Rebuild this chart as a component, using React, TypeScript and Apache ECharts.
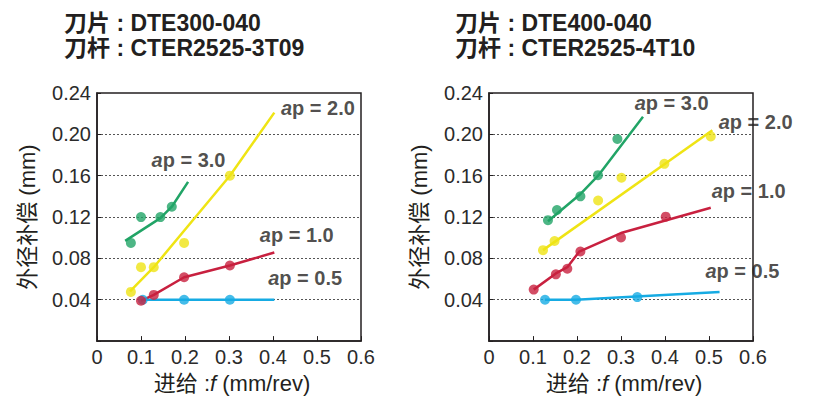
import React, { useEffect, useRef } from "react";
import * as echarts from "echarts";

// ---- Titles ----
const leftTitle = ["刀片 : DTE300-040", "刀杆 : CTER2525-3T09"];
const rightTitle = ["刀片 : DTE400-040", "刀杆 : CTER2525-4T10"];

// ---- Axes ----
const xMin = 0, xMax = 0.6, xStep = 0.1;
const yMin = 0, yMax = 0.24, yStep = 0.04;
const xName = "进给";
const yName = "外径补偿 (mm)";

// ---- ap labels (order: 3.0, 2.0, 1.0, 0.5) ----
const apValues = ["3.0", "2.0", "1.0", "0.5"];
const leftLabelPos = [[0.124, 0.1753], [0.418, 0.2255], [0.37, 0.1025], [0.389, 0.0611]];
const rightLabelPos = [[0.331, 0.2305], [0.522, 0.2115], [0.506, 0.145], [0.492, 0.0675]];

// ---- Left chart data: DTE300-040 ----
const L_ap30_pts = [[0.077, 0.095], [0.1, 0.12], [0.144, 0.12], [0.17, 0.13]];
const L_ap30_fit = [[0.064, 0.097], [0.144, 0.119], [0.17, 0.13], [0.207, 0.154]];
const L_ap20_pts = [[0.077, 0.0476], [0.1, 0.0715], [0.129, 0.0715], [0.198, 0.095], [0.302, 0.16]];
const L_ap20_fit = [[0.075, 0.048], [0.129, 0.0715], [0.302, 0.16], [0.403, 0.221]];
const L_ap10_pts = [[0.1, 0.039], [0.129, 0.0447], [0.198, 0.0618], [0.302, 0.0731]];
const L_ap10_fit = [[0.1, 0.039], [0.129, 0.0447], [0.198, 0.0618], [0.302, 0.0731], [0.403, 0.0857]];
const L_ap05_pts = [[0.104, 0.04], [0.198, 0.04], [0.302, 0.04]];
const L_ap05_fit = [[0.104, 0.04], [0.403, 0.04]];

// ---- Right chart data: DTE400-040 ----
const R_ap30_pts = [[0.134, 0.117], [0.1545, 0.1268], [0.2077, 0.14], [0.2477, 0.1605], [0.2918, 0.1955]];
const R_ap30_fit = [[0.134, 0.116], [0.206, 0.1415], [0.248, 0.16], [0.35, 0.217]];
const R_ap20_pts = [[0.1227, 0.088], [0.149, 0.0968], [0.248, 0.136], [0.301, 0.158], [0.3986, 0.1715], [0.504, 0.198]];
const R_ap20_fit = [[0.1227, 0.088], [0.5077, 0.204]];
const R_ap10_pts = [[0.1016, 0.0498], [0.152, 0.0646], [0.178, 0.07], [0.2077, 0.0867], [0.3, 0.1003], [0.4016, 0.1204]];
const R_ap10_fit = [[0.1016, 0.0498], [0.152, 0.0655], [0.178, 0.0715], [0.205, 0.0865], [0.3, 0.1045], [0.504, 0.129]];
const R_ap05_pts = [[0.1273, 0.04], [0.1977, 0.04], [0.337, 0.0426]];
const R_ap05_fit = [[0.1273, 0.04], [0.1977, 0.04], [0.524, 0.0476]];

// ---- Styles ----
const GREEN = "#21a466";
const YELLOW = "#efe414";
const RED = "#c8203f";
const BLUE = "#16abe3";
const INK = "#231f20";
const FONT = "'Liberation Sans', Arial, 'Noto Sans CJK SC', sans-serif";

function buildSeries(idx: number, sets: any[], labelPos: number[][]) {
  const series: any[] = [];
  sets.forEach((s) => {
    series.push({
      type: "line",
      xAxisIndex: idx,
      yAxisIndex: idx,
      data: s.fit,
      showSymbol: false,
      symbol: "none",
      lineStyle: { color: s.color, width: 2.5 },
      z: 3,
      clip: false,
      silent: true,
    });
    series.push({
      type: "scatter",
      xAxisIndex: idx,
      yAxisIndex: idx,
      data: s.pts,
      symbol: "circle",
      symbolSize: 10,
      itemStyle: { color: s.color },
      z: 4,
      clip: false,
      silent: true,
    });
  });
  series.push({
    type: "scatter",
    xAxisIndex: idx,
    yAxisIndex: idx,
    data: labelPos.map((p, i) => [p[0], p[1], apValues[i]]),
    symbolSize: 0,
    z: 6,
    clip: false,
    silent: true,
    label: {
      show: true,
      position: "right",
      distance: 0,
      formatter: (p: any) => `{i|a}{n|p = ${p.value[2]}}`,
      rich: {
        i: { fontFamily: FONT, fontSize: 20, fontWeight: "bold", fontStyle: "italic", color: INK },
        n: { fontFamily: FONT, fontSize: 20, fontWeight: "bold", color: INK },
      },
    },
  });
  return series;
}

function axisPair(idx: number) {
  const xAxis = {
    type: "value",
    gridIndex: idx,
    min: xMin,
    max: xMax,
    interval: xStep,
    axisLine: { show: true, lineStyle: { color: INK, width: 1.5 } },
    axisTick: { show: true, inside: true, length: 5, lineStyle: { color: INK, width: 1 } },
    splitLine: { show: false },
    axisLabel: {
      margin: 6,
      fontFamily: FONT,
      fontSize: 20,
      color: "#2b2b2b",
      formatter: (v: number) => (v === 0 ? "0" : v.toFixed(1)),
    },
    name: `{n|${xName} :}{i|f}{n| (mm/rev)}`,
    nameLocation: "middle",
    nameGap: 29,
    nameTextStyle: {
      padding: [0, 0, 0, 6],
      rich: {
        n: { fontFamily: FONT, fontSize: 22, color: INK },
        i: { fontFamily: FONT, fontSize: 22, fontStyle: "italic", color: INK },
      },
    },
  };
  const yAxis = {
    type: "value",
    gridIndex: idx,
    min: yMin,
    max: yMax,
    interval: yStep,
    axisLine: { show: true, lineStyle: { color: INK, width: 1.5 } },
    axisTick: { show: true, inside: true, length: 4, lineStyle: { color: INK, width: 1 } },
    splitLine: {
      show: true,
      showMinLine: false,
      showMaxLine: false,
      lineStyle: { color: "#555", width: 1, type: [2, 2] },
    },
    axisLabel: {
      margin: 6,
      fontFamily: FONT,
      fontSize: 20,
      color: "#2b2b2b",
      formatter: (v: number) => (v === 0 ? "" : v.toFixed(2)),
    },
    name: yName,
    nameLocation: "middle",
    nameGap: 59,
    nameTextStyle: { fontFamily: FONT, fontSize: 22, color: INK },
  };
  return { xAxis, yAxis };
}

export default function App() {
  const ref = useRef<HTMLDivElement>(null);
  useEffect(() => {
    if (!ref.current) return;
    const chart = echarts.init(ref.current, undefined, { renderer: "svg" });
    const a0 = axisPair(0);
    const a1 = axisPair(1);
    const leftSets = [
      { pts: L_ap05_pts, fit: L_ap05_fit, color: BLUE },
      { pts: L_ap10_pts, fit: L_ap10_fit, color: RED },
      { pts: L_ap20_pts, fit: L_ap20_fit, color: YELLOW },
      { pts: L_ap30_pts, fit: L_ap30_fit, color: GREEN },
    ];
    const rightSets = [
      { pts: R_ap05_pts, fit: R_ap05_fit, color: BLUE },
      { pts: R_ap10_pts, fit: R_ap10_fit, color: RED },
      { pts: R_ap20_pts, fit: R_ap20_fit, color: YELLOW },
      { pts: R_ap30_pts, fit: R_ap30_fit, color: GREEN },
    ];
    const titleStyle = {
      fontFamily: FONT,
      fontSize: 23,
      fontWeight: "bold",
      color: INK,
      lineHeight: 25,
    };
    chart.setOption({
      animation: false,
      backgroundColor: "#ffffff",
      title: [
        { text: leftTitle.join("\n"), left: 64, top: 10, padding: 0, textStyle: titleStyle },
        { text: rightTitle.join("\n"), left: 455, top: 10, padding: 0, textStyle: titleStyle },
      ],
      grid: [
        { left: 97, top: 93, width: 264, height: 253, show: true, borderColor: INK, borderWidth: 1.5, backgroundColor: "transparent" },
        { left: 489, top: 93, width: 264, height: 253, show: true, borderColor: INK, borderWidth: 1.5, backgroundColor: "transparent" },
      ],
      xAxis: [a0.xAxis, a1.xAxis],
      yAxis: [a0.yAxis, a1.yAxis],
      series: [...buildSeries(0, leftSets, leftLabelPos), ...buildSeries(1, rightSets, rightLabelPos)],
    });
    return () => chart.dispose();
  }, []);
  return (
    <div
      ref={ref}
      style={{ position: "fixed", left: 0, top: 0, width: 813, height: 399, background: "#fff" }}
    />
  );
}
